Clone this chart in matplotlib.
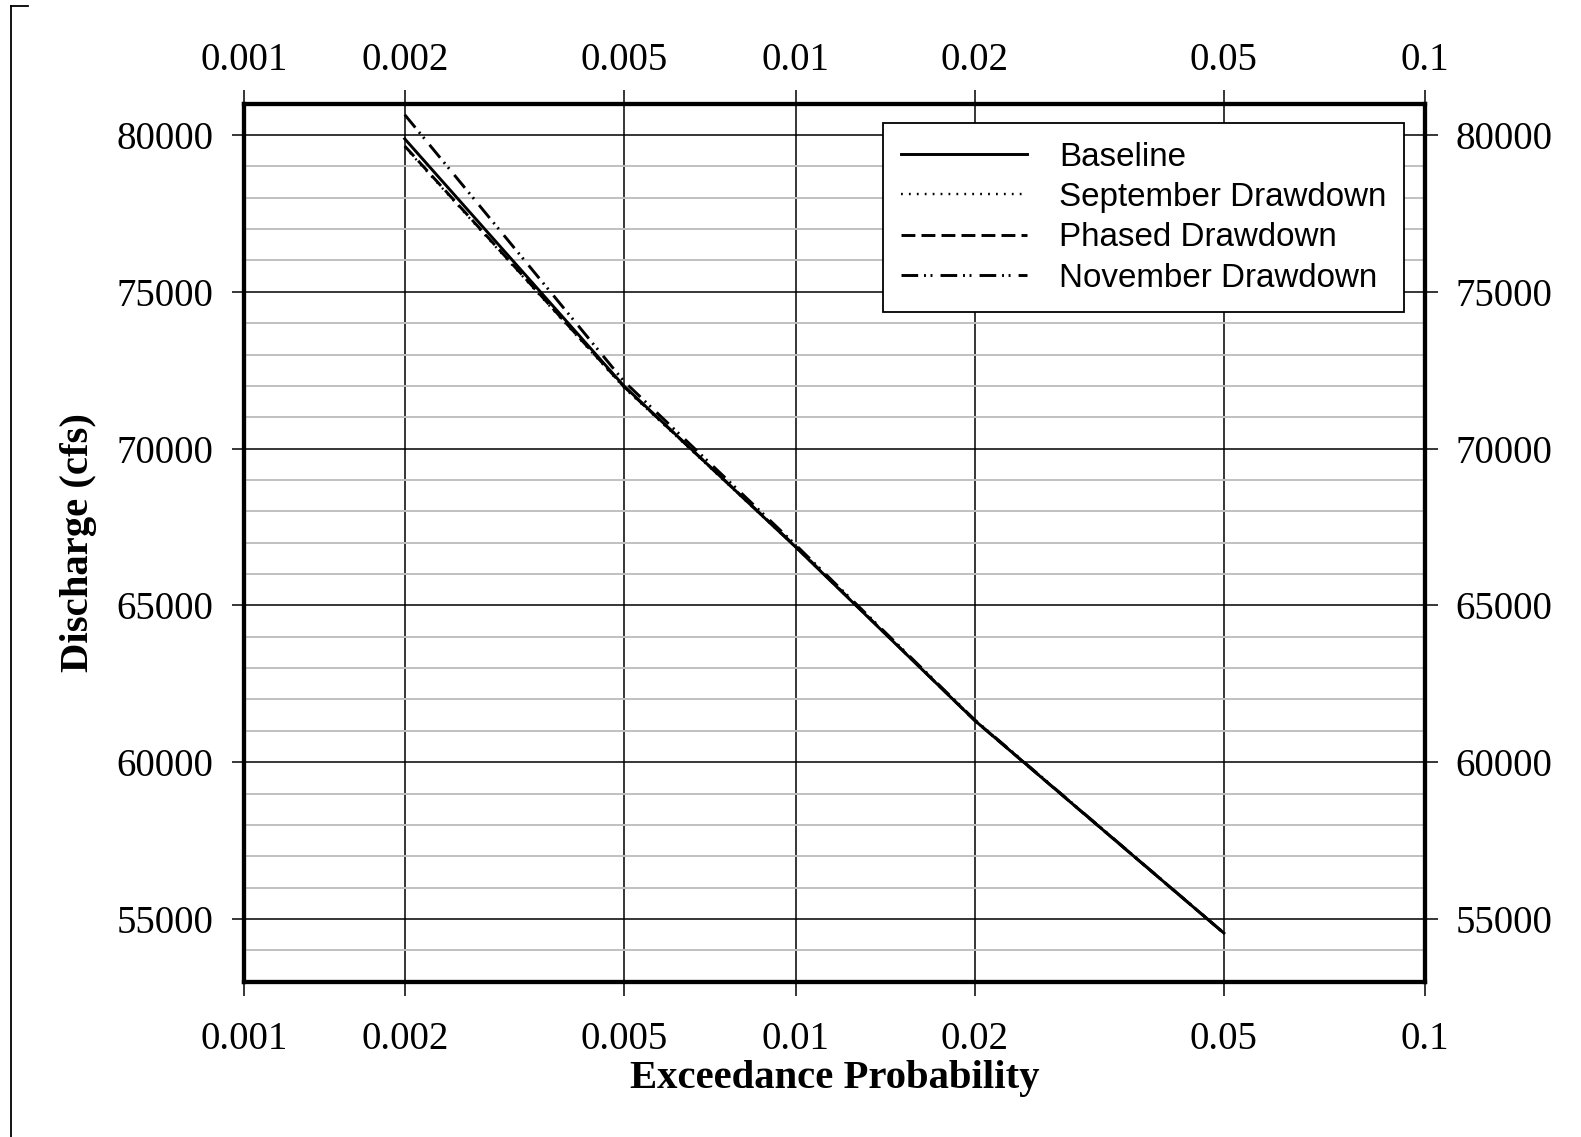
import numpy as np
import matplotlib
matplotlib.use("Agg")
import matplotlib.pyplot as plt
from matplotlib.lines import Line2D
from matplotlib.ticker import FixedLocator, MultipleLocator, FuncFormatter, NullLocator

# Flood-frequency discharge by alternative
probability = [0.002, 0.005, 0.01, 0.02, 0.05]
baseline = [79880, 72000, 66850, 61330, 54550]
september = [79620, 71950, 66850, 61330, 54550]
phased = [79650, 71980, 66870, 61330, 54550]
november = [80650, 72150, 66920, 61350, 54550]

series_names = ["Baseline", "September Drawdown", "Phased Drawdown", "November Drawdown"]
x_ticks = [0.001, 0.002, 0.005, 0.01, 0.02, 0.05, 0.1]
x_tick_labels = ["0.001", "0.002", "0.005", "0.01", "0.02", "0.05", "0.1"]
y_ticks = [55000, 60000, 65000, 70000, 75000, 80000]

plt.rcParams["lines.scale_dashes"] = False

# Probability-paper style transform for exceedance probability
EXP = 0.75


def prob_forward(p):
    p = np.clip(np.asarray(p, dtype=float), 1e-12, 1 - 1e-12)
    return -(-np.log(p)) ** EXP


def prob_inverse(y):
    y = np.asarray(y, dtype=float)
    return np.exp(-(np.clip(-y, 0, None)) ** (1.0 / EXP))


def x_label_fmt(v, pos):
    if pos is not None and pos < len(x_tick_labels):
        return x_tick_labels[pos]
    return ""


W, H = 1581, 1137
fig = plt.figure(figsize=(W / 100, H / 100), dpi=100)
ax = fig.add_axes([244.3 / W, 1 - 981.7 / H, (1425.3 - 244.3) / W, (981.7 - 103.7) / H])

ax.set_xscale("function", functions=(prob_forward, prob_inverse))
ax.set_xlim(0.001, 0.1)
ax.set_ylim(53000, 81000)

styles = [
    dict(linestyle="-", linewidth=2.1),
    dict(linestyle=(0, (1.3, 4.4)), linewidth=1.7),
    dict(linestyle=(0, (10.0, 4.4)), linewidth=2.1),
    dict(linestyle=(0, (12.0, 4.2, 1.4, 3.3, 1.4, 5.8)), linewidth=2.1),
]
for name, vals, st in zip(series_names, [baseline, september, phased, november], styles):
    ax.plot(probability, vals, color="black", label=name, zorder=3, **st)

serif = "Liberation Serif"
ax.xaxis.set_major_locator(FixedLocator(x_ticks))
ax.xaxis.set_major_formatter(FuncFormatter(x_label_fmt))
ax.xaxis.set_minor_locator(NullLocator())
ax.yaxis.set_major_locator(FixedLocator(y_ticks))
ax.yaxis.set_minor_locator(MultipleLocator(1000))
ax.yaxis.set_major_formatter(FuncFormatter(lambda v, pos: f"{int(v)}"))

ax.grid(which="major", axis="both", color="black", linewidth=1.1, zorder=1)
ax.grid(which="minor", axis="y", color="#c0c0c0", linewidth=1.4, zorder=0)
ax.set_axisbelow(True)

ax.tick_params(axis="x", which="major", direction="out", length=10, width=1.1,
               top=False, bottom=True, labeltop=False, labelbottom=True,
               labelsize=28, labelfontfamily=serif, pad=18)
ax.tick_params(axis="y", which="major", direction="out", length=9, width=1.1,
               left=True, right=True, labelleft=True, labelright=True,
               labelsize=28, labelfontfamily=serif, pad=13)
ax.tick_params(axis="y", which="minor", length=0)

# Top probability axis
top = ax.twiny()
top.set_xscale("function", functions=(prob_forward, prob_inverse))
top.set_xlim(ax.get_xlim())
top.xaxis.set_major_locator(FixedLocator(x_ticks))
top.xaxis.set_major_formatter(FuncFormatter(x_label_fmt))
top.xaxis.set_minor_locator(NullLocator())
top.tick_params(axis="x", which="major", direction="out", length=10, width=1.1,
                top=True, bottom=False, labeltop=True, labelbottom=False,
                labelsize=28, labelfontfamily=serif, pad=8)
for sp in top.spines.values():
    sp.set_visible(False)

for sp in ax.spines.values():
    sp.set_linewidth(3.1)
    sp.set_zorder(5)

ax.set_xlabel("Exceedance Probability", fontfamily=serif, fontweight="bold", fontsize=29.3, labelpad=2)
ax.set_ylabel("Discharge (cfs)", fontfamily=serif, fontweight="bold", fontsize=29.3, labelpad=14)

leg = ax.legend(loc="upper right", bbox_to_anchor=(0.9823, 0.9775), borderaxespad=0,
                prop={"family": "Liberation Sans", "size": 23.9},
                frameon=True, fancybox=False, framealpha=1, edgecolor="black",
                handlelength=3.8, handletextpad=0.95, labelspacing=0.28, borderpad=0.55)
leg.get_frame().set_linewidth(1.3)
leg.set_zorder(6)

# Page frame edges
fig.add_artist(Line2D([11 / W, 11 / W], [0, 1 - 6 / H], transform=fig.transFigure, color="black", lw=1.3))
fig.add_artist(Line2D([11 / W, 28 / W], [1 - 6 / H, 1 - 6 / H], transform=fig.transFigure, color="black", lw=1.3))

fig.savefig("out.png", dpi=100, facecolor="white")
